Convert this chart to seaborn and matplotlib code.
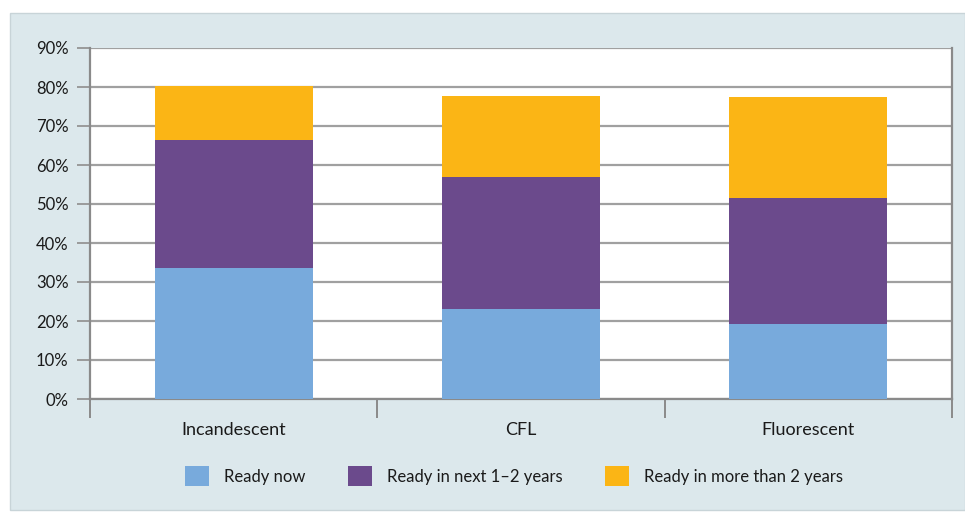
import matplotlib
matplotlib.use("Agg")
import matplotlib.pyplot as plt
from matplotlib.patches import Rectangle, Patch
import seaborn as sns
import pandas as pd
import numpy as np

categories = ["Incandescent", "CFL", "Fluorescent"]
ready_now = [33.5, 23.2, 19.3]
ready_1_2 = [33.0, 33.6, 32.2]
ready_more = [13.8, 20.8, 26.0]
series_names = ["Ready now", "Ready in next 1\u20132 years", "Ready in more than 2 years"]
colors = ["#78aadc", "#6b4a8c", "#fbb515"]
yticks = [0, 10, 20, 30, 40, 50, 60, 70, 80, 90]

sns.set_theme(style="white")
plt.rcParams["font.family"] = ["Lato", "DejaVu Sans"]

fig = plt.figure(figsize=(9.65, 5.12), dpi=100, facecolor="white")
fig.patches.append(Rectangle((10/965, 2/512), 1 - 10/965, (510-13)/512,
                             transform=fig.transFigure, facecolor="#dce8ec",
                             edgecolor="#c8d4d8", linewidth=1, zorder=-10))
ax = fig.add_axes([90/965, (512-399)/512, (952-90)/965, (399-48)/512])
ax.set_facecolor("white")

s1 = np.array(ready_now)
s2 = s1 + np.array(ready_1_2)
s3 = s2 + np.array(ready_more)
df = pd.DataFrame({"cat": categories, "s1": s1, "s2": s2, "s3": s3})

for col, c in zip(["s3", "s2", "s1"], colors[::-1]):
    sns.barplot(data=df, x="cat", y=col, color=c, width=0.55, ax=ax,
                saturation=1, edgecolor="none", linewidth=0, zorder=3)

ax.set_ylim(0, 90)
ax.set_xlim(-0.5, 2.5)
ax.set_yticks(yticks)
ax.set_yticklabels([f"{v}%" for v in yticks])
ax.yaxis.grid(True, color="#a0a0a0", linewidth=1.6, zorder=0)
ax.set_axisbelow(True)
ax.set_xlabel("")
ax.set_ylabel("")

ax.spines["top"].set_visible(False)
for side in ["left", "right", "bottom"]:
    ax.spines[side].set_color("#8a8a8a")
    ax.spines[side].set_linewidth(1.6)

ax.tick_params(axis="y", which="major", direction="out", length=9.5, width=1.4,
               color="#9a9a9a", labelsize=12, labelcolor="#1a1a1a", pad=6, left=True)
ax.tick_params(axis="x", which="major", length=0, labelsize=13, labelcolor="#1a1a1a", pad=16.5)
ax.set_xticks([-0.5, 0.5, 1.5, 2.5], minor=True)
ax.tick_params(axis="x", which="minor", direction="out", length=13.5, width=1.4,
               color="#8a8a8a", bottom=True)

handles = [Patch(facecolor=c, edgecolor="none") for c in colors]
leg = fig.legend(handles, series_names, loc="center", bbox_to_anchor=(514/965, 1 - 476/512),
                 ncol=3, frameon=False, fontsize=12, handlelength=1.45, handleheight=1.45,
                 handletextpad=0.9, columnspacing=2.55)
for t in leg.get_texts():
    t.set_color("#1a1a1a")

fig.savefig("out.png", dpi=100, facecolor="white")
